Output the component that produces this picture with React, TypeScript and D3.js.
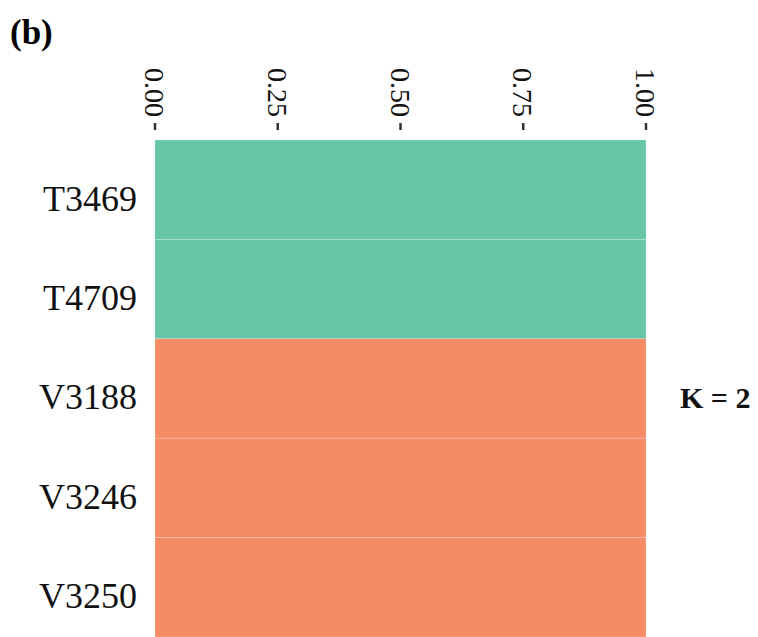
import React from "react";
import * as d3 from "d3";

const samples = ["T3469", "T4709", "V3188", "V3246", "V3250"];
const cluster1 = [1, 1, 0, 0, 0];
const cluster2 = [0, 0, 1, 1, 1];
const tickValues = [0, 0.25, 0.5, 0.75, 1];
const clusterKeys = ["c1", "c2"];
const clusterColors = ["#66c5a7", "#f58c66"];

const width = 758;
const height = 637;
const margin = { top: 140, right: 112, bottom: 0, left: 155 };

const App = () => {
  const rows = samples.map((s, i) => ({ sample: s, c1: cluster1[i], c2: cluster2[i] }));

  const x = d3.scaleLinear().domain([0, 1]).range([margin.left, width - margin.right]);
  const y = d3
    .scaleBand()
    .domain(samples)
    .range([margin.top, height - margin.bottom])
    .padding(0);

  const stacked = d3.stack().keys(clusterKeys)(rows as any);
  const color = d3.scaleOrdinal<string, string>().domain(clusterKeys).range(clusterColors);

  const serif = "'Liberation Serif', 'Times New Roman', serif";

  return (
    <div style={{ position: "absolute", left: 0, top: 0 }}>
      <svg width={width} height={height} style={{ display: "block", background: "#fff" }}>
        <text x={10} y={44} fontFamily={serif} fontWeight="bold" fontSize={35}>
          (b)
        </text>

        {/* stacked bars */}
        {stacked.map((layer) => (
          <g key={layer.key} fill={color(layer.key)}>
            {layer.map((d: any, i) =>
              d[1] - d[0] > 0 ? (
                <rect
                  key={i}
                  x={x(d[0])}
                  y={y(d.data.sample)}
                  width={x(d[1]) - x(d[0])}
                  height={y.bandwidth()}
                  stroke="#ffffff"
                  strokeOpacity={0.3}
                  strokeWidth={0.6}
                />
              ) : null
            )}
          </g>
        ))}

        {/* top axis, rotated labels */}
        <g fontFamily={serif} fontSize={28}>
          {tickValues.map((t) => (
            <g key={t}>
              <text
                transform={`translate(${x(t)},117) rotate(90)`}
                textAnchor="end"
                dy="0.35em"
                fill="#111"
              >
                {d3.format(".2f")(t)}
              </text>
              <line x1={x(t)} x2={x(t)} y1={123} y2={130} stroke="#333" strokeWidth={2.5} />
            </g>
          ))}
        </g>

        {/* sample labels */}
        <g fontFamily={serif} fontSize={36} textAnchor="end">
          {samples.map((s) => (
            <text key={s} x={margin.left - 18} y={(y(s) as number) + y.bandwidth() / 2} dy="0.58em" fill="#111">
              {s}
            </text>
          ))}
        </g>

        <text x={680} y={408} fontFamily={serif} fontWeight="bold" fontSize={30} fill="#111">
          K = 2
        </text>
      </svg>
    </div>
  );
};

export default App;
